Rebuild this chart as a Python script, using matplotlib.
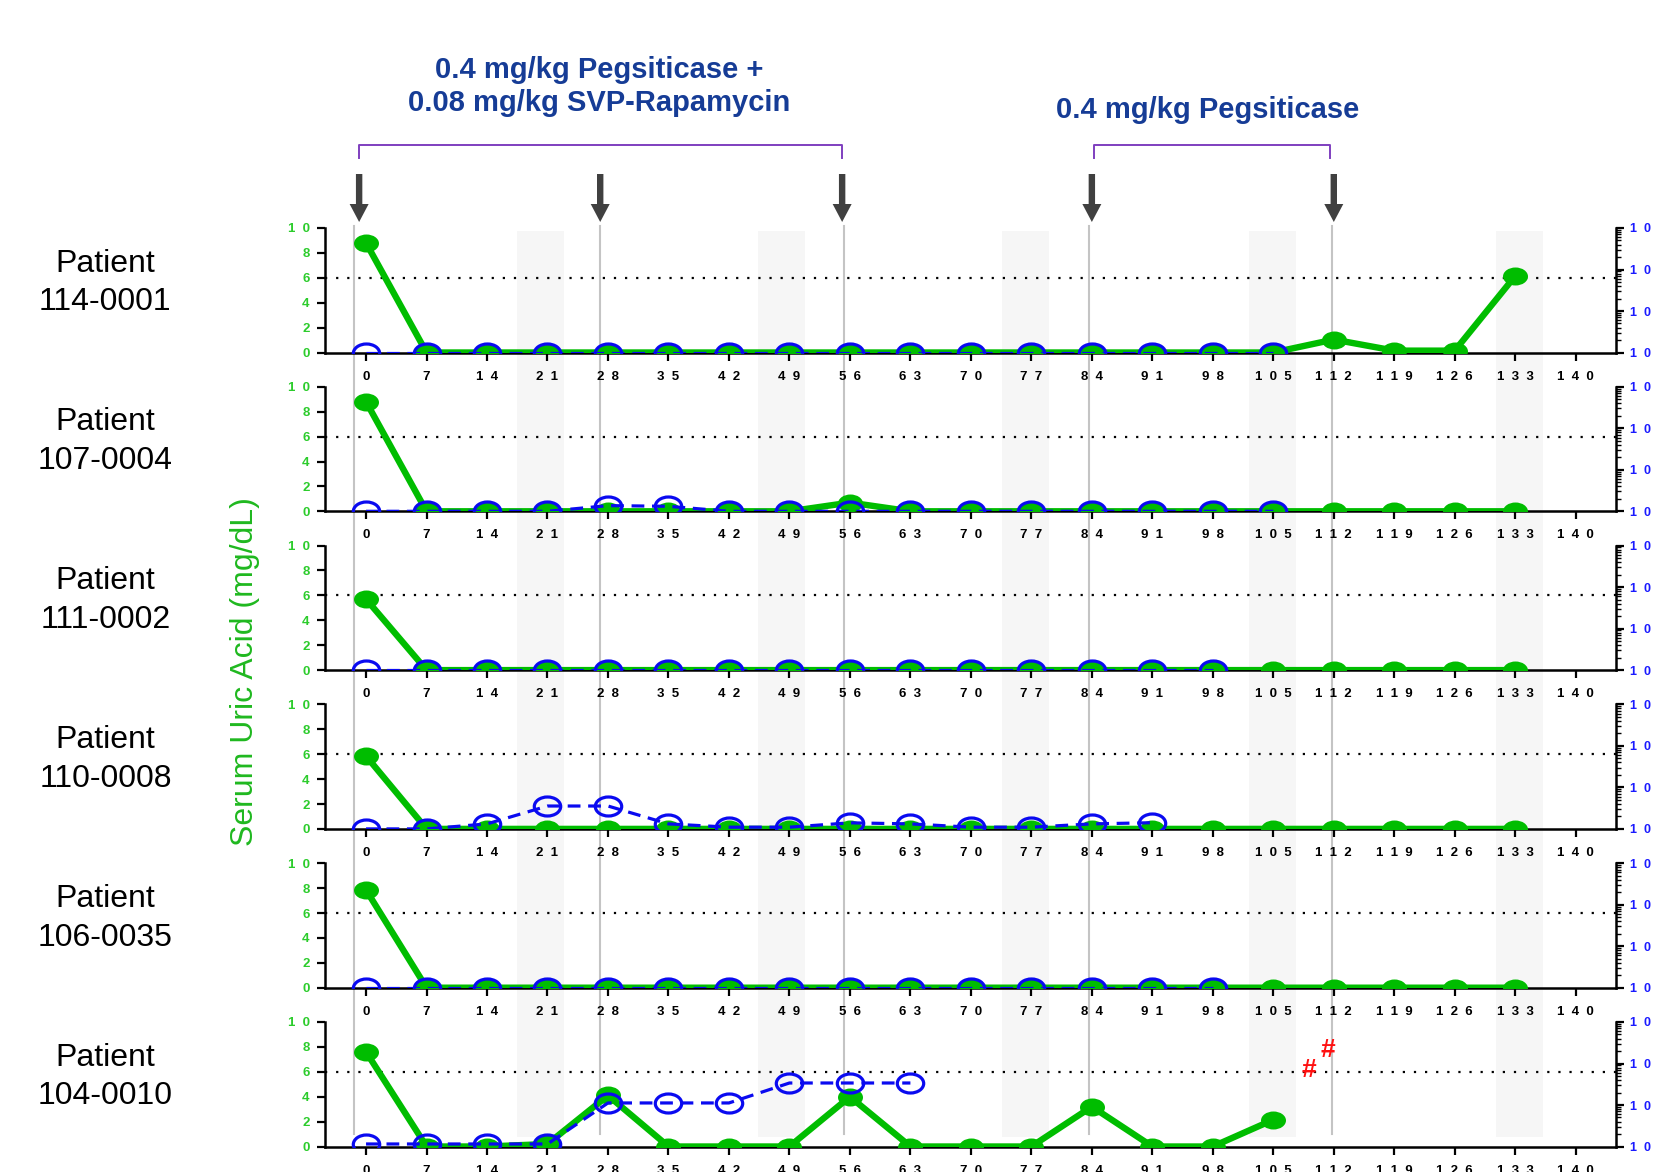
import numpy as np
import matplotlib
matplotlib.use('Agg')
import matplotlib.pyplot as plt
from matplotlib.path import Path
from matplotlib.transforms import Affine2D, blended_transform_factory
from matplotlib.patches import Polygon, Rectangle
from matplotlib.lines import Line2D
import matplotlib.ticker as mticker

plt.rcParams['font.family'] = ['Liberation Sans', 'DejaVu Sans']

# ---------------- data ----------------
days = [0, 7, 14, 21, 28, 35, 42, 49, 56, 63, 70, 77, 84, 91, 98, 105, 112, 119, 126, 133]
patients = ["114-0001", "107-0004", "111-0002", "110-0008", "106-0035", "104-0010"]

# serum uric acid (mg/dL), left axis
sua_114_0001 = [8.8, 0, 0, 0, 0, 0, 0, 0, 0, 0, 0, 0, 0, 0, 0, 0, 1.04, 0.15, 0.15, 6.15]
sua_107_0004 = [8.8, 0, 0, 0, 0, 0, 0, 0, 0.7, 0, 0, 0, 0, 0, 0, 0, 0, 0, 0, 0]
sua_111_0002 = [5.7, 0, 0, 0, 0, 0, 0, 0, 0, 0, 0, 0, 0, 0, 0, 0, 0, 0, 0, 0]
sua_110_0008 = [5.85, 0, 0, 0, 0, 0, 0, 0, 0, 0, 0, 0, 0, 0, 0, 0, 0, 0, 0, 0]
sua_106_0035 = [7.85, 0, 0, 0, 0, 0, 0, 0, 0, 0, 0, 0, 0, 0, 0, 0, 0, 0, 0, 0]
sua_104_0010 = [7.6, 0, 0, 0.2, 4.1, 0, 0, 0, 4.0, 0, 0, 0, 3.2, 0, 0, 2.15]

# anti-drug antibody titer, right (log) axis
ada_114_0001 = [10] * 16
ada_107_0004 = [10, 10, 10, 10, 13.7, 13.2, 10, 10, 10, 10, 10, 10, 10, 10, 10, 10]
ada_111_0002 = [10] * 15
ada_110_0008 = [10, 10, 13.2, 35.6, 35.6, 13.2, 11, 11, 14, 13.2, 11, 11, 13.2, 14.1]
ada_106_0035 = [10] * 15
ada_104_0010 = [11.5, 11.5, 11.5, 11.5, 112, 112, 112, 339, 339, 339]

sua = [sua_114_0001, sua_107_0004, sua_111_0002, sua_110_0008, sua_106_0035, sua_104_0010]
ada = [ada_114_0001, ada_107_0004, ada_111_0002, ada_110_0008, ada_106_0035, ada_104_0010]

xticks = list(range(0, 141, 7))
left_ticks = [0, 2, 4, 6, 8, 10]
right_ticks = [10, 100, 1000, 10000]
right_labels = ["10", "10", "10", "10"]
dose_line_days = [-1.4, 27.1, 55.3, 83.7, 111.8]
arrow_days = [-0.8, 27.1, 55.1, 84.0, 112.0]
band_centers = [20.2, 48.1, 76.3, 104.9, 133.5]
bracket1 = (-0.8, 55.1)
bracket2 = (84.2, 111.6)
hash_marks = [(109.1, 6.15), (111.3, 7.75)]
title1 = "0.4 mg/kg Pegsiticase +\n0.08 mg/kg SVP-Rapamycin"
title2 = "0.4 mg/kg Pegsiticase"

GREEN = '#00bd00'
GREEN_T = '#2ccc2c'
BLUE = '#0a0af0'
BLUE_T = '#1a1aff'
NAVY = '#163c96'
PURPLE = '#7f3fbf'

W, H = 1653, 1172
fig = plt.figure(figsize=(W / 100, H / 100), dpi=100)


def fy(py):
    return 1 - py / H


def sp(s):
    return '  '.join(list(s))


ell = Path.unit_circle().transformed(Affine2D().scale(1, 0.72))

XMIN, XMAX = -4.75, 144.66
L_PX, R_PX = 325, 1616
axes = []
for i in range(6):
    top = 228 + 158.8 * i
    ax = fig.add_axes([L_PX / W, 1 - (top + 124.5) / H, (R_PX - L_PX) / W, 124.5 / H])
    ax.set_facecolor('none')
    ax.set_xlim(XMIN, XMAX)
    ax.set_ylim(0, 10)
    ax.axhline(6, color='black', lw=1.6, ls=(0, (1, 4)), zorder=1)
    g = sua[i]
    ax.plot(days[:len(g)], g, color=GREEN, lw=4.6, marker=ell, ms=18,
            mfc=GREEN, mec=GREEN, mew=0, zorder=3)
    for s in ['top', 'right']:
        ax.spines[s].set_visible(False)
    for s in ['left', 'bottom']:
        ax.spines[s].set_linewidth(1.8)
    ax.set_xticks(xticks)
    ax.set_xticklabels([sp(str(t)) for t in xticks], fontweight='bold', fontsize=9.5)
    ax.set_yticks(left_ticks)
    ax.set_yticklabels([sp(str(t)) for t in left_ticks], fontweight='bold', fontsize=9.5,
                       color=GREEN_T)
    ax.tick_params(axis='x', direction='out', length=6, width=1.6, pad=7)
    ax.tick_params(axis='y', direction='out', length=6, width=1.6, pad=5)

    ax2 = ax.twinx()
    ax2.set_yscale('log')
    ax2.set_ylim(10, 1e4)
    b = ada[i]
    ax2.plot(days[:len(b)], b, color=BLUE, lw=2.3, ls=(0, (4.0, 2.4)), marker=ell, ms=19,
             mfc='none', mec=BLUE, mew=2.3, zorder=4)
    for s in ['top', 'left', 'bottom']:
        ax2.spines[s].set_visible(False)
    ax2.spines['right'].set_linewidth(1.8)
    ax2.yaxis.set_major_locator(mticker.FixedLocator(right_ticks))
    ax2.yaxis.set_major_formatter(mticker.FixedFormatter([sp(t) for t in right_labels]))
    ax2.yaxis.set_minor_locator(mticker.LogLocator(base=10, subs=np.arange(2, 10)))
    ax2.yaxis.set_minor_formatter(mticker.NullFormatter())
    for lab in ax2.get_yticklabels():
        lab.set_fontweight('bold')
        lab.set_color(BLUE_T)
        lab.set_fontsize(9)
    ax2.tick_params(axis='y', which='major', direction='out', length=6, width=1.6, pad=4)
    ax2.tick_params(axis='y', which='minor', direction='out', length=3.5, width=1.0)
    axes.append(ax)

for x, y in hash_marks:
    axes[5].text(x, y, '#', color='#ff1010', fontweight='bold', fontsize=19,
                 ha='center', va='center', zorder=6)

blend = blended_transform_factory(axes[0].transData, fig.transFigure)

# shaded bands spanning all panels
for c in band_centers:
    r = Rectangle((c - 2.75, fy(1137)), 5.5, fy(231) - fy(1137), transform=blend,
                  facecolor='#f6f6f6', edgecolor='none', zorder=-2)
    fig.add_artist(r)

# dosing lines
for d in dose_line_days:
    fig.add_artist(Line2D([d, d], [fy(226), fy(1134)], transform=blend, color='#c4c4c4',
                          lw=1.5, zorder=-1))

# arrows
px_day = (R_PX - L_PX) / (XMAX - XMIN)
for d in arrow_days:
    hw = 3.2 / px_day
    hh = 9.5 / px_day
    verts = [(d - hw, fy(174)), (d + hw, fy(174)), (d + hw, fy(204)), (d + hh, fy(204)),
             (d, fy(222)), (d - hh, fy(204)), (d - hw, fy(204))]
    fig.add_artist(Polygon(verts, closed=True, transform=blend, facecolor='#404040',
                           edgecolor='none', zorder=2))

# brackets
for a, b in [bracket1, bracket2]:
    fig.add_artist(Line2D([a, a, b, b], [fy(158), fy(144.5), fy(144.5), fy(158)],
                          transform=blend, color=PURPLE, lw=1.4, zorder=2))

# titles
fig.text(599 / W, fy(86.5), title1, ha='center', va='center', fontsize=21,
         fontweight='bold', color=NAVY, linespacing=1.2)
fig.text(1208 / W, fy(110.5), title2, ha='center', va='center', fontsize=21,
         fontweight='bold', color=NAVY)

# patient labels
for i, pid in enumerate(patients):
    fig.text(105.4 / W, fy(263.5 + 158.8 * i), "Patient", ha='center', va='center',
             fontsize=23)
    fig.text(105.4 / W, fy(302.5 + 158.8 * i), pid, ha='center', va='center',
             fontsize=23)

fig.text(244.6 / W, fy(671.5), "Serum Uric Acid (mg/dL)", rotation=90, ha='center',
         va='center', fontsize=23, color='#1fb81f')

fig.savefig('out.png', dpi=100)
